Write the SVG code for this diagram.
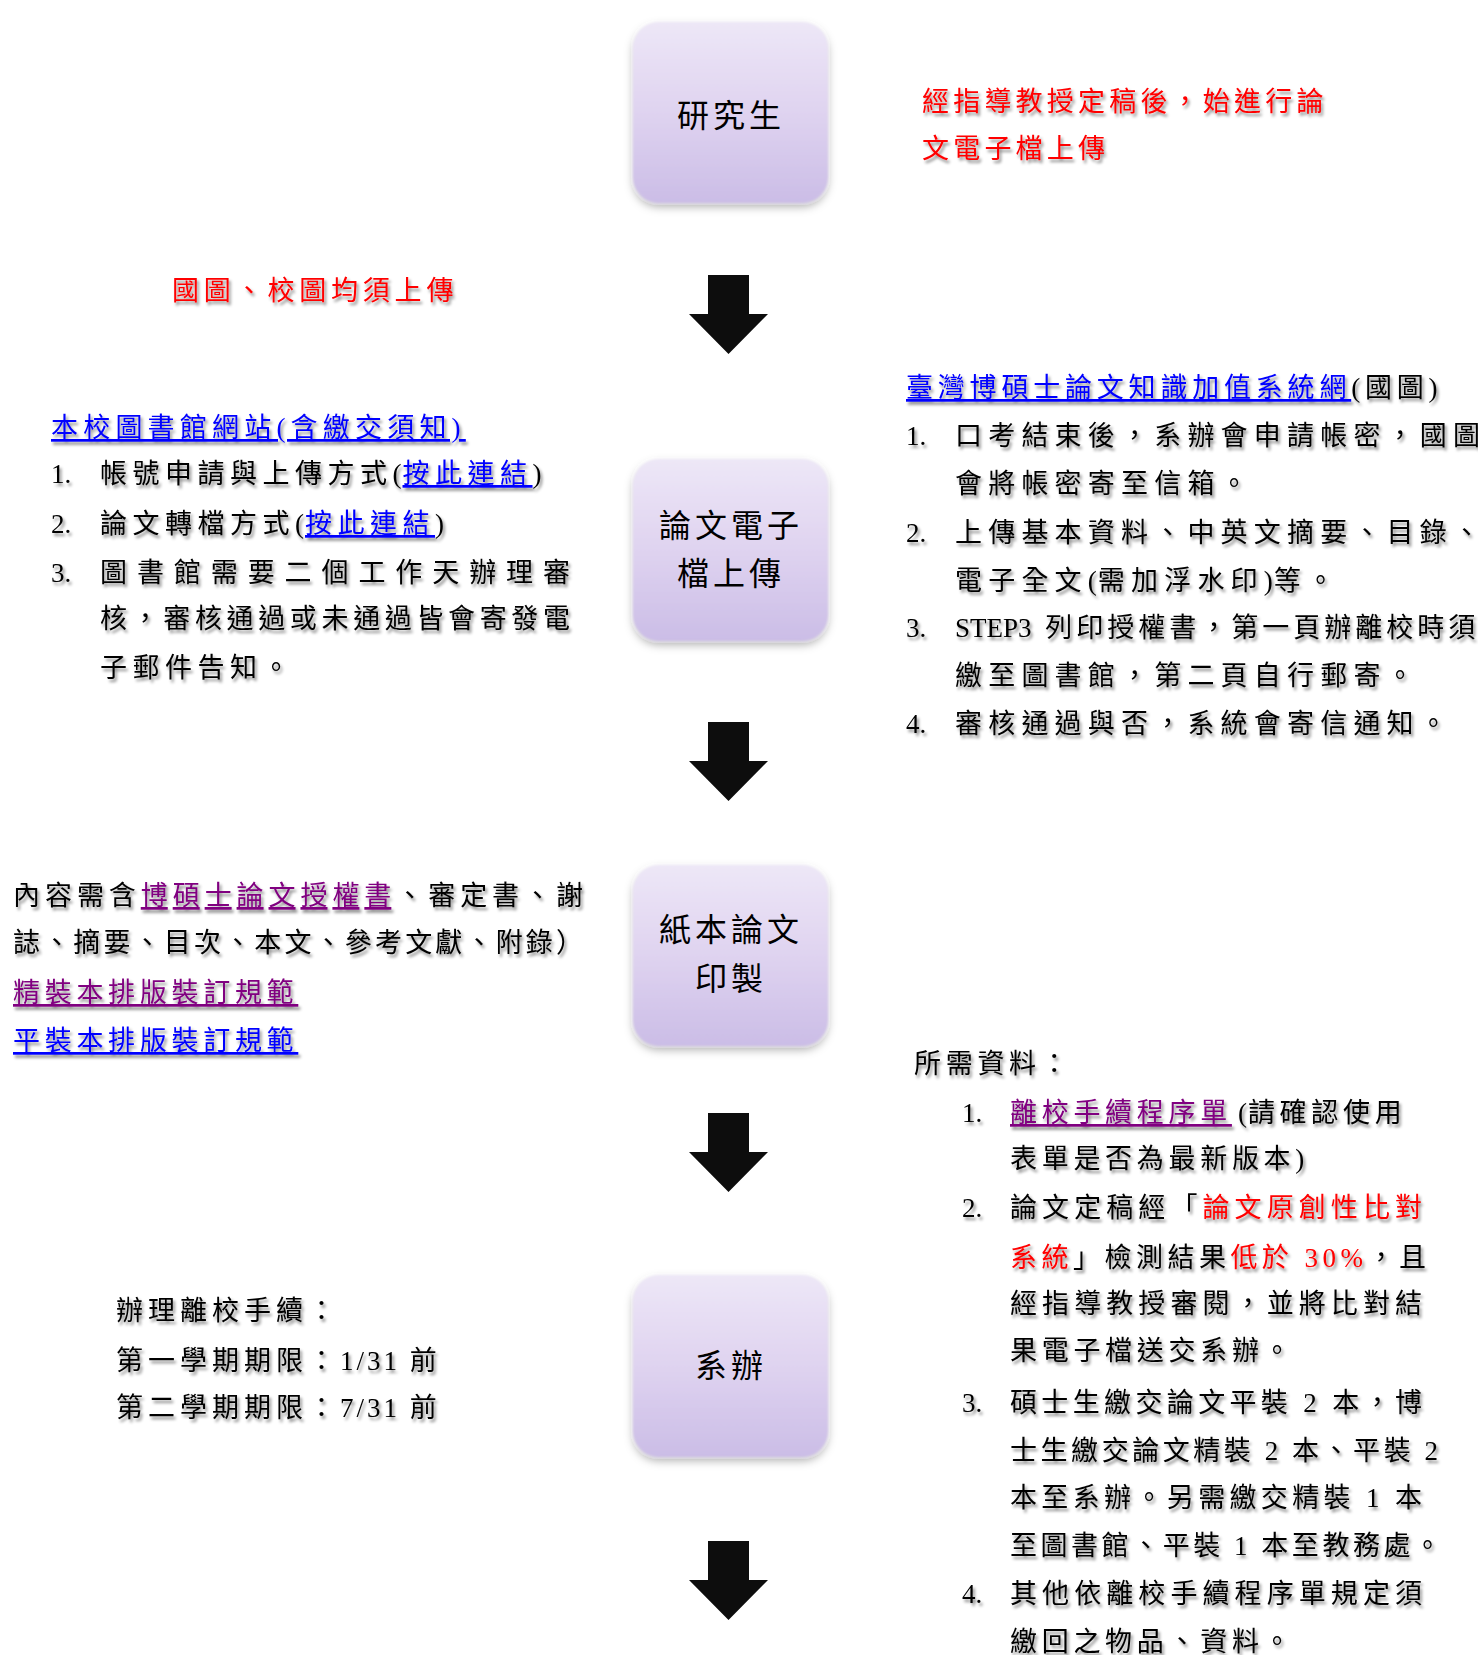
<svg xmlns="http://www.w3.org/2000/svg" xmlns:xlink="http://www.w3.org/1999/xlink" width="1478" height="1655" viewBox="0 0 1478 1655">
<defs>
  <linearGradient id="boxGrad" x1="0" y1="0" x2="0" y2="1">
    <stop offset="0" stop-color="#ede7f7"/>
    <stop offset="0.5" stop-color="#dfd3f0"/>
    <stop offset="1" stop-color="#cbbde6"/>
  </linearGradient>
  <filter id="boxShadow" x="-20%" y="-20%" width="140%" height="150%">
    <feGaussianBlur in="SourceGraphic" stdDeviation="1.2" result="soft"/>
    <feDropShadow in="soft" dx="0" dy="4" stdDeviation="4" flood-color="#000" flood-opacity="0.3"/>
  </filter>
  <filter id="txtShadow" x="-5%" y="-30%" width="110%" height="170%">
    <feDropShadow dx="2" dy="3" stdDeviation="1.6" flood-color="#000" flood-opacity="0.45"/>
  </filter>
  <path id="arrow" d="M19,0 H60 V39 H79 L39.5,79 L0,39 H19 Z" fill="#0d0d0d"/>
</defs>
<style>
  .t { font-family: "Liberation Serif", "Noto Sans CJK TC", serif; font-size: 27px; fill: #000; }
  .nt { font-family: "Liberation Serif", "Noto Sans CJK TC", serif; font-size: 32px; fill: #000; letter-spacing: 4px; text-anchor: middle; }
  .red { fill: #ff0000; }
  .blue { fill: #0000ff; text-decoration: underline; }
  .purple { fill: #800080; text-decoration: underline; }
  .sh { filter: url(#txtShadow); }
  .box { fill: url(#boxGrad); filter: url(#boxShadow); }
  .p { letter-spacing: 1px; }
</style>

<!-- Nodes -->
<g id="node-student">
  <rect class="box" x="633" y="22" width="195" height="181" rx="26"/>
  <text class="nt" x="731" y="127">研究生</text>
</g>
<g id="node-upload">
  <rect class="box" x="633" y="459" width="195" height="182" rx="26"/>
  <text class="nt" x="731" y="537">論文電子</text>
  <text class="nt" x="731" y="585">檔上傳</text>
</g>
<g id="node-print">
  <rect class="box" x="633" y="865" width="195" height="181" rx="26"/>
  <text class="nt" x="731" y="941">紙本論文</text>
  <text class="nt" x="731" y="990">印製</text>
</g>
<g id="node-dept">
  <rect class="box" x="633" y="1275" width="195" height="182" rx="26"/>
  <text class="nt" x="731" y="1377">系辦</text>
</g>

<!-- Connectors -->
<g id="connectors">
  <use xlink:href="#arrow" href="#arrow" x="689" y="275"/>
  <use xlink:href="#arrow" href="#arrow" x="689" y="722"/>
  <use xlink:href="#arrow" href="#arrow" x="689" y="1113"/>
  <use xlink:href="#arrow" href="#arrow" x="689" y="1541"/>
</g>

<!-- Annotations -->
<g id="note-top" class="sh">
  <text class="t red" x="922" y="111" letter-spacing="4.2">經指導教授定稿後，始進行論</text>
  <text class="t red" x="922" y="158" letter-spacing="4.2">文電子檔上傳</text>
</g>

<g id="note-both" class="sh">
  <text class="t red" x="172" y="300" letter-spacing="4.8">國圖、校圖均須上傳</text>
</g>

<g id="note-library" class="sh">
  <text class="t" x="51" y="437" letter-spacing="5.2"><tspan class="blue">本校圖書館網站(含繳交須知)</tspan></text>
  <text class="t" x="51" y="483">1.</text>
  <text class="t" x="100" y="483" letter-spacing="5.5">帳號申請與上傳方式<tspan class="p">(</tspan><tspan class="blue">按此連結</tspan><tspan class="p">)</tspan></text>
  <text class="t" x="51" y="533">2.</text>
  <text class="t" x="100" y="533" letter-spacing="5.5">論文轉檔方式<tspan class="p">(</tspan><tspan class="blue">按此連結</tspan><tspan class="p">)</tspan></text>
  <text class="t" x="51" y="582">3.</text>
  <text class="t" x="100" y="582" textLength="470" lengthAdjust="spacing">圖書館需要二個工作天辦理審</text>
  <text class="t" x="100" y="628" textLength="470" lengthAdjust="spacing">核，審核通過或未通過皆會寄發電</text>
  <text class="t" x="100" y="677" letter-spacing="5.5">子郵件告知。</text>
</g>

<g id="note-ndltd" class="sh">
  <text class="t" x="906" y="397" letter-spacing="4.8"><tspan class="blue">臺灣博碩士論文知識加值系統網</tspan>(國圖)</text>
  <text class="t" x="906" y="445">1.</text>
  <text class="t" x="955" y="445" letter-spacing="6.2">口考結束後，系辦會申請帳密，國圖</text>
  <text class="t" x="955" y="493" letter-spacing="6.2">會將帳密寄至信箱。</text>
  <text class="t" x="906" y="542">2.</text>
  <text class="t" x="955" y="542" letter-spacing="6.2">上傳基本資料、中英文摘要、目錄、</text>
  <text class="t" x="955" y="590" letter-spacing="6.2">電子全文<tspan class="p">(</tspan>需加浮水印<tspan class="p">)</tspan>等。</text>
  <text class="t" x="906" y="637">3.</text>
  <text class="t" x="955" y="637" letter-spacing="4.0"><tspan letter-spacing="0">STEP3 </tspan><tspan dx="7">列</tspan>印授權書，第一頁辦離校時須</text>
  <text class="t" x="955" y="685" letter-spacing="6.2">繳至圖書館，第二頁自行郵寄。</text>
  <text class="t" x="906" y="733">4.</text>
  <text class="t" x="955" y="733" letter-spacing="6.2">審核通過與否，系統會寄信通知。</text>
</g>

<g id="note-content" class="sh">
  <text class="t" x="13" y="905" textLength="570" lengthAdjust="spacing">內容需含<tspan class="purple">博碩士論文授權書</tspan>、審定書、謝</text>
  <text class="t" x="13" y="952" textLength="570" lengthAdjust="spacing">誌、摘要、目次、本文、參考文獻、附錄）</text>
  <text class="t" x="13" y="1002" letter-spacing="4.7"><tspan class="purple">精裝本排版裝訂規範</tspan></text>
  <text class="t" x="13" y="1050" letter-spacing="4.7"><tspan class="blue">平裝本排版裝訂規範</tspan></text>
</g>

<g id="note-deadline" class="sh">
  <text class="t" x="116" y="1320" letter-spacing="5">辦理離校手續：</text>
  <text class="t" x="116" y="1370" letter-spacing="5">第一學期期限：<tspan letter-spacing="3">1/31 </tspan>前</text>
  <text class="t" x="116" y="1417" letter-spacing="5">第二學期期限：<tspan letter-spacing="3">7/31 </tspan>前</text>
</g>

<g id="note-materials" class="sh">
  <text class="t" x="914" y="1073" letter-spacing="4.7">所需資料：</text>
  <text class="t" x="962" y="1122">1.</text>
  <text class="t" x="1010" y="1122" letter-spacing="4.7"><tspan class="purple">離校手續程序單</tspan><tspan class="p" dx="6">(</tspan>請確認使用</text>
  <text class="t" x="1010" y="1168" letter-spacing="4.7">表單是否為最新版本<tspan class="p">)</tspan></text>
  <text class="t" x="962" y="1217">2.</text>
  <text class="t" x="1010" y="1217" textLength="412" lengthAdjust="spacing">論文定稿經「<tspan class="red">論文原創性比對</tspan></text>
  <text class="t" x="1010" y="1267" textLength="416" lengthAdjust="spacing"><tspan class="red">系統</tspan>」檢測結果<tspan class="red">低於 30%</tspan>，且</text>
  <text class="t" x="1010" y="1313" textLength="412" lengthAdjust="spacing">經指導教授審閱，並將比對結</text>
  <text class="t" x="1010" y="1360" letter-spacing="4.7">果電子檔送交系辦。</text>
  <text class="t" x="962" y="1412">3.</text>
  <text class="t" x="1010" y="1412" textLength="412" lengthAdjust="spacing">碩士生繳交論文平裝 2 本，博</text>
  <text class="t" x="1010" y="1460" textLength="428" lengthAdjust="spacing">士生繳交論文精裝 2 本、平裝 2</text>
  <text class="t" x="1010" y="1507" textLength="412" lengthAdjust="spacing">本至系辦。另需繳交精裝 1 本</text>
  <text class="t" x="1010" y="1555" textLength="431" lengthAdjust="spacing">至圖書館、平裝 1 本至教務處。</text>
  <text class="t" x="962" y="1603">4.</text>
  <text class="t" x="1010" y="1603" textLength="412" lengthAdjust="spacing">其他依離校手續程序單規定須</text>
  <text class="t" x="1010" y="1651" letter-spacing="4.7">繳回之物品、資料。</text>
</g>
</svg>
